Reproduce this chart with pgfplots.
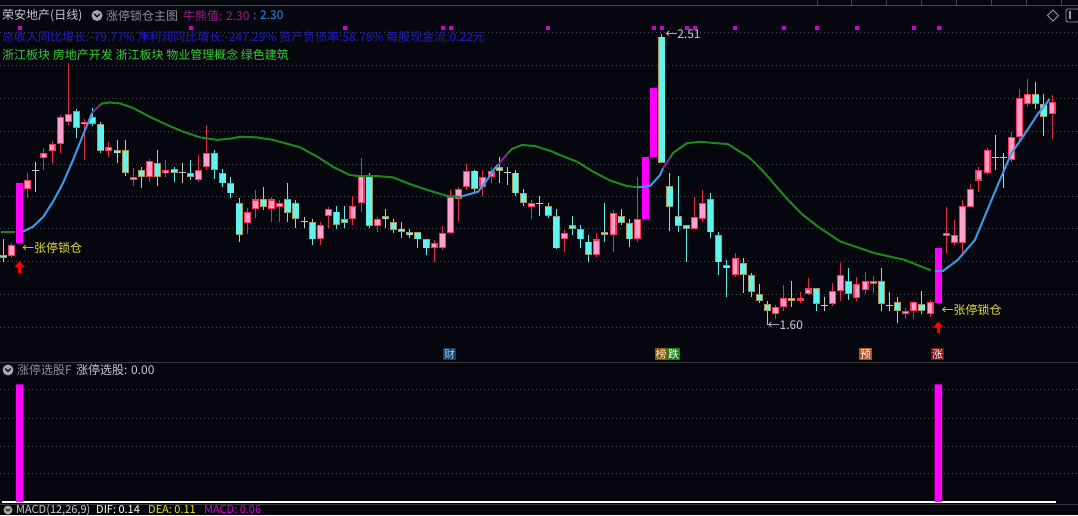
\documentclass[border=0pt]{standalone}
\usepackage{fontspec}
\setmainfont{Noto Sans CJK SC}
\usepackage{pgfplots}
\pgfplotsset{compat=1.18}
\usepackage{pgfplotstable}
\usetikzlibrary{arrows.meta}

\definecolor{bg}{RGB}{6,6,14}
\definecolor{gridc}{RGB}{72,72,80}
\definecolor{upedge}{RGB}{255,50,90}
\definecolor{upfill}{RGB}{255,160,205}
\definecolor{upwick}{RGB}{225,45,70}
\definecolor{dnfill}{RGB}{95,245,238}
\definecolor{dnedge}{RGB}{175,150,90}
\definecolor{dnwick}{RGB}{95,235,235}
\definecolor{zt}{RGB}{255,0,255}
\definecolor{doji}{RGB}{200,200,200}
\definecolor{maG}{RGB}{30,135,30}
\definecolor{maB}{RGB}{55,155,230}
\definecolor{maP}{RGB}{130,40,150}
\definecolor{txtY}{RGB}{230,225,60}
\definecolor{txtG}{RGB}{205,205,205}
\definecolor{infoB}{RGB}{30,30,200}
\definecolor{bkG}{RGB}{50,210,50}
\definecolor{niu}{RGB}{160,30,140}
\definecolor{niuB}{RGB}{50,140,220}

% i open high low close
\pgfplotstableread{
i o h l c
1 1.817 1.856 1.809 1.851
3 2.025 2.075 1.997 2.054
5 2.123 2.153 2.085 2.139
6 2.145 2.176 2.108 2.166
7 2.165 2.257 2.139 2.250
8 2.236 2.420 2.226 2.260
10 2.228 2.243 2.116 2.236
13 2.145 2.173 2.127 2.156
16 2.054 2.090 2.035 2.064
18 2.064 2.118 2.048 2.114
20 2.075 2.116 2.064 2.085
24 2.054 2.132 2.048 2.085
25 2.093 2.226 2.085 2.139
30 1.920 1.965 1.885 1.953
31 1.962 2.023 1.934 1.993
33 1.962 2.002 1.923 1.993
34 1.970 1.991 1.923 1.981
39 1.868 1.922 1.851 1.913
40 1.941 1.970 1.903 1.962
43 1.931 2.004 1.913 1.973
44 1.981 2.123 1.955 2.066
46 1.910 1.939 1.892 1.931
53 1.840 1.866 1.798 1.858
54 1.840 1.910 1.835 1.889
55 1.889 2.023 1.887 2.002
56 1.993 2.033 1.923 2.025
57 2.033 2.104 2.023 2.083
59 2.033 2.085 2.004 2.064
60 2.064 2.095 2.045 2.083
65 1.970 1.991 1.931 1.981
69 1.868 1.898 1.830 1.889
73 1.819 1.887 1.814 1.868
75 1.882 1.960 1.830 1.952
78 1.868 2.064 1.861 1.931
85 1.901 2.002 1.901 1.939
86 1.931 2.023 1.923 1.981
90 1.757 1.825 1.750 1.809
95 1.635 1.663 1.618 1.656
96 1.656 1.726 1.645 1.684
98 1.677 1.705 1.670 1.684
99 1.698 1.747 1.694 1.715
102 1.666 1.733 1.660 1.708
103 1.708 1.795 1.677 1.757
105 1.684 1.750 1.677 1.729
106 1.710 1.767 1.698 1.739
107 1.729 1.754 1.700 1.739
111 1.635 1.653 1.618 1.645
112 1.645 1.677 1.618 1.673
114 1.635 1.679 1.627 1.673
116 1.879 1.970 1.827 1.889
117 1.858 1.929 1.851 1.882
118 1.858 1.991 1.825 1.973
119 1.970 2.041 1.970 2.025
120 2.052 2.093 2.017 2.085
121 2.075 2.153 2.069 2.148
124 2.116 2.205 2.111 2.187
125 2.187 2.337 2.179 2.309
126 2.291 2.368 2.283 2.322
129 2.260 2.319 2.181 2.298
}\upT

\pgfplotstableread{
i o h l c
0 1.819 1.868 1.798 1.811
9 2.269 2.276 2.184 2.217
11 2.250 2.279 2.223 2.229
12 2.228 2.235 2.139 2.144
14 2.148 2.179 2.108 2.137
15 2.148 2.179 2.066 2.075
17 2.085 2.093 2.028 2.064
19 2.106 2.148 2.035 2.064
21 2.087 2.095 2.048 2.077
23 2.075 2.116 2.054 2.064
26 2.139 2.148 2.056 2.085
27 2.075 2.087 2.031 2.043
28 2.043 2.064 1.997 2.012
29 1.981 1.997 1.861 1.882
32 1.993 2.033 1.960 1.970
35 1.993 2.043 1.923 1.952
36 1.981 1.991 1.903 1.931
38 1.922 1.931 1.851 1.868
41 1.955 1.973 1.900 1.913
42 1.931 1.973 1.903 1.920
45 2.066 2.075 1.903 1.910
47 1.941 1.962 1.903 1.931
48 1.923 1.931 1.889 1.898
49 1.902 1.923 1.872 1.891
50 1.891 1.900 1.872 1.881
51 1.891 1.891 1.842 1.868
52 1.868 1.868 1.819 1.840
58 2.083 2.085 2.014 2.025
61 2.093 2.125 2.045 2.083
63 2.077 2.085 2.004 2.012
64 2.012 2.025 1.973 1.981
67 1.973 1.981 1.934 1.941
68 1.941 1.962 1.837 1.840
70 1.913 1.941 1.882 1.900
71 1.900 1.913 1.840 1.868
72 1.861 1.882 1.798 1.819
74 1.892 1.981 1.861 1.882
76 1.941 1.962 1.913 1.920
77 1.920 1.931 1.843 1.868
81 2.502 2.510 2.106 2.106
82 2.034 2.075 1.894 1.970
83 1.941 2.066 1.892 1.911
84 1.913 1.913 1.798 1.901
87 1.993 2.012 1.872 1.890
88 1.882 1.890 1.757 1.796
89 1.788 1.804 1.687 1.778
91 1.795 1.809 1.700 1.757
92 1.757 1.762 1.687 1.705
93 1.698 1.729 1.670 1.677
94 1.666 1.677 1.600 1.645
97 1.684 1.739 1.656 1.677
100 1.715 1.715 1.645 1.666
104 1.739 1.778 1.679 1.698
108 1.739 1.778 1.645 1.666
110 1.673 1.687 1.606 1.645
113 1.666 1.708 1.635 1.645
127 2.322 2.361 2.275 2.291
128 2.291 2.323 2.191 2.250
}\dnT

\pgfplotstableread{
i o h l c
4 2.085 2.111 2.017 2.085
22 2.077 2.106 2.045 2.077
37 1.923 1.939 1.903 1.923
62 2.077 2.093 2.038 2.077
66 1.981 2.004 1.941 1.981
101 1.663 1.687 1.645 1.663
109 1.663 1.705 1.645 1.663
122 2.125 2.194 2.085 2.125
123 2.125 2.137 2.028 2.125
}\dojiT

\pgfplotstableread{
i o h l c
2 1.858 2.043 1.858 2.043
79 1.931 2.125 1.931 2.125
80 2.125 2.340 2.125 2.340
115 1.670 1.840 1.670 1.840
}\ztT

\pgfplotsset{
  wick/.style={only marks, mark=*, mark options={opacity=0}, forget plot,
    error bars/.cd, y dir=both, y explicit, error mark=none,
    error bar style={line width=1pt, color=#1}},
  body/.style 2 args={only marks, mark=*, mark options={opacity=0}, forget plot,
    error bars/.cd, y dir=both, y explicit, error mark=none,
    error bar style={line width=#2, color=#1}},
}

\begin{document}
\begin{tikzpicture}[x=1pt,y=1pt]
\path[use as bounding box] (0,0) rectangle (1078,515);
\clip (0,0) rectangle (1078,515);
\fill[bg] (0,0) rectangle (1078,515);

% top strip
\draw[gray!55!black, line width=1pt] (0,509) -- (1078,509);
\foreach \xx in {817,851,886,921,956,991,1026,1061}
  \draw[gray!55!black, line width=1pt] (\xx,509) -- (\xx,515);

\begin{axis}[
  at={(0pt,153pt)}, anchor=south west, scale only axis,
  width=1078pt, height=340pt,
  xmin=-0.406, xmax=132.19, ymin=1.485, ymax=2.5475,
  axis line style={draw=none}, xtick=\empty,
  ytick={1.594,1.697,1.798,1.901,2.001,2.104,2.207,2.310,2.413,2.516},
  yticklabels={}, major tick length=0pt,
  ymajorgrids, grid style={gridc, line width=0.8pt, dash pattern=on 1pt off 3pt},
  clip=false,
]
% event markers
\addplot[only marks, mark=square*, mark size=1.5pt, color=zt!80!black] coordinates {
 (2,2.529) (23,2.529) (42,2.529) (54,2.529) (55,2.529) (67,2.529) (80,2.529) (81,2.529)
 (84,2.529) (85,2.529) (90,2.529) (96,2.529) (100,2.529) (105,2.529) (112,2.529) (115,2.529)};

% wicks
\addplot[wick=upwick] table[x=i, y expr={(\thisrow{h}+\thisrow{l})/2}, y error expr={(\thisrow{h}-\thisrow{l})/2}] {\upT};
\addplot[wick=dnwick] table[x=i, y expr={(\thisrow{h}+\thisrow{l})/2}, y error expr={(\thisrow{h}-\thisrow{l})/2}] {\dnT};
\addplot[wick=doji] table[x=i, y expr={(\thisrow{h}+\thisrow{l})/2}, y error expr={(\thisrow{h}-\thisrow{l})/2}] {\dojiT};
\addplot[only marks, mark=-, mark size=3.5pt, color=doji, mark options={line width=1pt}, forget plot] table[x=i, y=c] {\dojiT};

% bodies
\addplot[body={upedge}{7pt}] table[x=i, y expr={(\thisrow{o}+\thisrow{c})/2}, y error expr={abs(\thisrow{c}-\thisrow{o})/2}] {\upT};
\addplot[body={upfill}{4.6pt}] table[x=i, y expr={(\thisrow{o}+\thisrow{c})/2}, y error expr={max(abs(\thisrow{c}-\thisrow{o})/2-0.0035,0)}] {\upT};
\addplot[body={dnedge}{7pt}] table[x=i, y expr={(\thisrow{o}+\thisrow{c})/2}, y error expr={abs(\thisrow{c}-\thisrow{o})/2}] {\dnT};
\addplot[body={dnfill}{5.4pt}] table[x=i, y expr={(\thisrow{o}+\thisrow{c})/2}, y error expr={max(abs(\thisrow{c}-\thisrow{o})/2-0.0025,0)}] {\dnT};
\addplot[body={zt}{7.2pt}] table[x=i, y expr={(\thisrow{o}+\thisrow{c})/2}, y error expr={abs(\thisrow{c}-\thisrow{o})/2}] {\ztT};

% indicator line
\addplot[maG, line width=2pt] coordinates {(-0.3,1.891) (1.5,1.891)};
\addplot[maB, line width=2pt] coordinates {(2.42,1.892) (3.65,1.908) (4.92,1.939) (6.11,1.986) (7.34,2.044) (8.57,2.116) (9.80,2.194) (10.91,2.263)};
\addplot[maP, line width=2pt] coordinates {(10.91,2.263) (11.89,2.288)};
\addplot[maG, line width=2pt] coordinates {(11.89,2.288) (12.14,2.293) (13.12,2.296) (14.35,2.293) (15.95,2.279) (18.04,2.251) (20.13,2.226) (22.10,2.205) (24.19,2.187) (26.29,2.179) (28.25,2.184) (29.11,2.189) (31.21,2.187) (33.17,2.179) (36.49,2.156) (38.59,2.127) (40.55,2.095) (42.64,2.069) (43.87,2.066) (45.96,2.066) (47.93,2.062) (50.02,2.041) (52.11,2.023) (54.57,2.004) (56.17,2.001)};
\addplot[maB, line width=2pt] coordinates {(56.17,2.001) (58.39,2.017) (59.5,2.054) (60.48,2.091) (60.85,2.101)};
\addplot[maP, line width=2pt] coordinates {(60.85,2.101) (62.08,2.138)};
\addplot[maG, line width=2pt] coordinates {(62.08,2.138) (62.57,2.151) (63.8,2.163) (65.4,2.160) (67.25,2.145) (68.47,2.132) (70.56,2.111) (72.53,2.080) (74.62,2.052) (76.71,2.035) (78.07,2.031)};
\addplot[maB, line width=2pt] coordinates {(78.07,2.031) (79.55,2.035) (80.78,2.069) (81.15,2.091)};
\addplot[maP, line width=2pt] coordinates {(81.15,2.091) (82.0,2.122)};
\addplot[maG, line width=2pt] coordinates {(82.0,2.122) (82.37,2.138) (84.1,2.169) (85.7,2.173) (88.15,2.168) (89.14,2.166) (90.6,2.142) (91.6,2.127) (92.7,2.101) (94.06,2.064) (96.15,2.002) (98.1,1.950) (100.2,1.908) (103.0,1.861) (107.2,1.825) (110.9,1.804) (113.4,1.778) (114.1,1.772)};
\addplot[maB, line width=2pt] coordinates {(114.6,1.770) (115.6,1.770) (117.4,1.804) (119.5,1.866) (120.7,1.939) (122.4,2.043) (124.0,2.137) (125.7,2.200) (127.3,2.262) (128.3,2.293) (128.7,2.307)};

% annotations
\draw[red, line width=3pt, -{Triangle[width=10pt,length=6pt]}] (axis cs:2,1.763) -- (axis cs:2,1.800);
\draw[red, line width=3pt, -{Triangle[width=10pt,length=6pt]}] (axis cs:115,1.576) -- (axis cs:115,1.611);
\node[anchor=west, inner sep=0, text=txtY, font=\fontsize{12}{14}\selectfont] at (axis cs:2.3,1.841) {←张停锁仓};
\node[anchor=west, inner sep=0, text=txtY, font=\fontsize{12}{14}\selectfont] at (axis cs:115.4,1.647) {←张停锁仓};
\node[anchor=west, inner sep=0, text=txtG, font=\fontsize{12}{14}\selectfont] at (axis cs:81.4,2.508) {←2.51};
\node[anchor=west, inner sep=0, text=txtG, font=\fontsize{12}{14}\selectfont] at (axis cs:94.0,1.600) {←1.60};
\end{axis}

% bottom panel
\begin{axis}[
  at={(0pt,13pt)}, anchor=south west, scale only axis,
  width=1078pt, height=122pt,
  xmin=-0.406, xmax=132.19, ymin=0, ymax=1.037,
  axis line style={draw=none}, xtick=\empty,
  ytick={0.24,0.476,0.711,0.955}, yticklabels={}, major tick length=0pt,
  ymajorgrids, grid style={gridc, line width=0.8pt, dash pattern=on 1pt off 3pt},
  clip=false,
]
\addplot[white, line width=1.2pt] coordinates {(-0.1,0) (129.5,0)};
\addplot[ybar, bar width=7.5pt, fill=zt, draw=none] coordinates {(2,1) (115,1)};
\end{axis}

% header texts
\fill[gray!70] (97,499.5) circle (5.5);
\draw[bg, line width=1.2pt] (94.3,501) -- (97,498.3) -- (99.7,501);
\node[anchor=west, inner sep=0, text=txtG, font=\fontsize{12}{14}\selectfont] at (2,499.5) {荣安地产(日线)};
\node[anchor=west, inner sep=0, text=gray!85, font=\fontsize{12}{14}\selectfont] at (106,499.5) {涨停锁仓主图};
\node[anchor=west, inner sep=0, text=niu, font=\fontsize{12}{14}\selectfont] at (183,499.5) {牛熊值: 2.30};
\node[anchor=west, inner sep=0, text=niuB, font=\fontsize{12}{14}\selectfont] at (253,499.5) {: 2.30};
\node[anchor=west, inner sep=0, text=infoB, font=\fontsize{12}{14}\selectfont] at (2,478.5) {总收入同比增长:-79.77\% 净利润同比增长:-247.29\% 资产负债率:58.78\% 每股现金流:0.22元};
\node[anchor=west, inner sep=0, text=bkG, font=\fontsize{12}{14}\selectfont] at (2,460) {浙江板块 房地产开发 浙江板块 物业管理概念 绿色建筑};

% right icons
\draw[gray!80, line width=0.8pt] (1053,505) -- (1058.5,499.5) -- (1053,494) -- (1047.5,499.5) -- cycle;
\draw[gray!80, line width=0.8pt, rounded corners=1.5pt] (1066,493) rectangle (1079,506);
\fill[gray!80] (1068.5,495.5) rectangle (1071,503.5);

% event tags
\node[fill={rgb,255:red,25;green,60;blue,95}, text={rgb,255:red,150;green,210;blue,255}, inner sep=0, minimum width=12.5pt, minimum height=12pt, font=\fontsize{11}{11}\selectfont] at (449.5,160.7) {财};
\node[fill={rgb,255:red,130;green,85;blue,20}, text={rgb,255:red,255;green,230;blue,180}, inner sep=0, minimum width=12.5pt, minimum height=12pt, font=\fontsize{11}{11}\selectfont] at (661,160.7) {榜};
\node[fill={rgb,255:red,20;green,130;blue,20}, text=white, inner sep=0, minimum width=12.5pt, minimum height=12pt, font=\fontsize{11}{11}\selectfont] at (673.5,160.7) {跌};
\node[fill={rgb,255:red,170;green,80;blue,30}, text=white, inner sep=0, minimum width=12.5pt, minimum height=12pt, font=\fontsize{11}{11}\selectfont] at (865.5,160.7) {预};
\node[fill={rgb,255:red,130;green,15;blue,15}, text=white, inner sep=0, minimum width=12.5pt, minimum height=12pt, font=\fontsize{11}{11}\selectfont] at (937.5,160.7) {涨};

% separators
\draw[gray!45!black, line width=1pt] (0,153) -- (1078,153);
\draw[gray!45!black, line width=1pt] (0,11) -- (1078,11);

% panel 2 header
\fill[gray!70] (8,145) circle (5.5);
\draw[bg, line width=1.2pt] (5.3,146.5) -- (8,143.8) -- (10.7,146.5);
\node[anchor=west, inner sep=0, text=gray!85, font=\fontsize{12}{14}\selectfont] at (17,145) {涨停选股F};
\node[anchor=west, inner sep=0, text=txtG, font=\fontsize{12}{14}\selectfont] at (76,145) {涨停选股: 0.00};

% MACD header
\fill[gray!70] (8,5) circle (4.5);
\draw[bg, line width=1pt] (5.8,6.2) -- (8,4) -- (10.2,6.2);
\node[anchor=base west, inner sep=0, text=txtG, font=\fontsize{11}{12}\selectfont] at (16,2) {MACD(12,26,9)};
\node[anchor=base west, inner sep=0, text=white, font=\fontsize{11}{12}\selectfont] at (96,2) {DIF: 0.14};
\node[anchor=base west, inner sep=0, text=yellow!90!black, font=\fontsize{11}{12}\selectfont] at (148,2) {DEA: 0.11};
\node[anchor=base west, inner sep=0, text=zt!85!black, font=\fontsize{11}{12}\selectfont] at (204,2) {MACD: 0.06};
\end{tikzpicture}
\end{document}
